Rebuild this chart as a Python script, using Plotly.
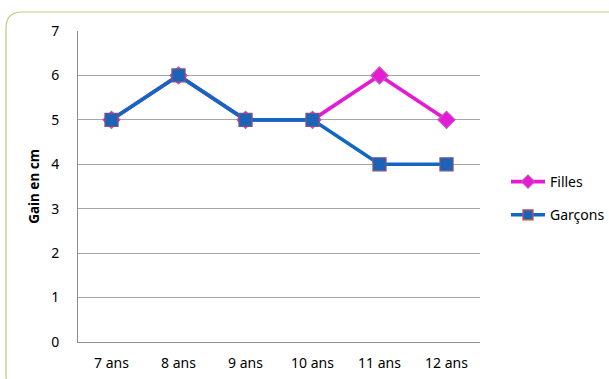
import plotly.graph_objects as go

# Growth data per age
ages = ["7 ans", "8 ans", "9 ans", "10 ans", "11 ans", "12 ans"]
filles = [5, 6, 5, 5, 6, 5]
garcons = [5, 6, 5, 5, 4, 4]
y_ticks = [0, 1, 2, 3, 4, 5, 6, 7]

W, H = 609, 379
L, R, T, B = 78, 129, 31, 37
pw, ph = W - L - R, H - T - B


def px_x(p):
    return (p - L) / pw


def px_y(p):
    return (H - B - p) / ph


series = [
    dict(name="Filles", y=filles, color="#e41bd2", symbol="diamond",
         fill="#e41bd2", edge="#c94fc4", group="f"),
    dict(name="Garçons", y=garcons, color="#1068c4", symbol="square",
         fill="#1a63b6", edge="#7b5585", group="g"),
]

fig = go.Figure()

for s in series:
    # plotted series
    fig.add_trace(go.Scatter(
        x=ages, y=s["y"], name=s["name"], mode="lines+markers",
        line=dict(color=s["color"], width=3.6),
        marker=dict(symbol=s["symbol"], size=13, color=s["fill"],
                    line=dict(color=s["edge"], width=1.3)),
        legendgroup=s["group"], showlegend=False,
    ))
    # legend entry with a smaller key marker
    fig.add_trace(go.Scatter(
        x=[None], y=[None], name=s["name"], mode="lines+markers",
        line=dict(color=s["color"], width=3.6),
        marker=dict(symbol=s["symbol"], size=10, color=s["fill"],
                    line=dict(color="#d0504d" if s["group"] == "g" else s["edge"],
                              width=1.3)),
        legendgroup=s["group"], showlegend=True, hoverinfo="skip",
    ))

# Rounded chart frame
x0, x1 = px_x(6), px_x(640)
yt, yb = px_y(12), px_y(392)
rx, ry = 16 / pw, 16 / ph
frame = (f"M {x0},{yb + ry} L {x0},{yt - ry} Q {x0},{yt} {x0 + rx},{yt} "
         f"L {x1},{yt} M {x0},{yb + ry} Q {x0},{yb} {x0 + rx},{yb}")

fig.update_layout(
    width=W, height=H,
    margin=dict(l=L, r=R, t=T, b=B, autoexpand=False),
    paper_bgcolor="white", plot_bgcolor="white",
    font=dict(family="Noto Sans", size=14, color="#000000"),
    showlegend=True,
    legend=dict(x=px_x(506), y=px_y(166), xanchor="left", yanchor="top",
                traceorder="grouped", tracegroupgap=12,
                font=dict(size=14, color="#000000"),
                bgcolor="rgba(0,0,0,0)", itemwidth=34),
    shapes=[dict(type="path", path=frame, xref="paper", yref="paper",
                 line=dict(color="#bccd7c", width=1.2), layer="below")],
    xaxis=dict(
        type="category", categoryorder="array", categoryarray=ages,
        range=[-0.5, 5.5], showgrid=False, automargin=False,
        showline=True, linecolor="#8c8c8c", linewidth=1,
        ticks="outside", ticklen=8, tickcolor="rgba(0,0,0,0)",
        tickfont=dict(size=14), zeroline=False,
    ),
    yaxis=dict(
        range=[0, 7], tickvals=y_ticks, ticktext=[str(v) for v in y_ticks],
        showgrid=True, gridcolor="#a6a6a6", gridwidth=1, automargin=False,
        showline=True, linecolor="#8c8c8c", linewidth=1,
        ticks="outside", ticklen=15, tickcolor="rgba(0,0,0,0)",
        tickfont=dict(size=14), zeroline=False,
        title=dict(text="<b>Gain en cm</b>", font=dict(size=13.5), standoff=8),
    ),
)

fig.write_html("out.html")
